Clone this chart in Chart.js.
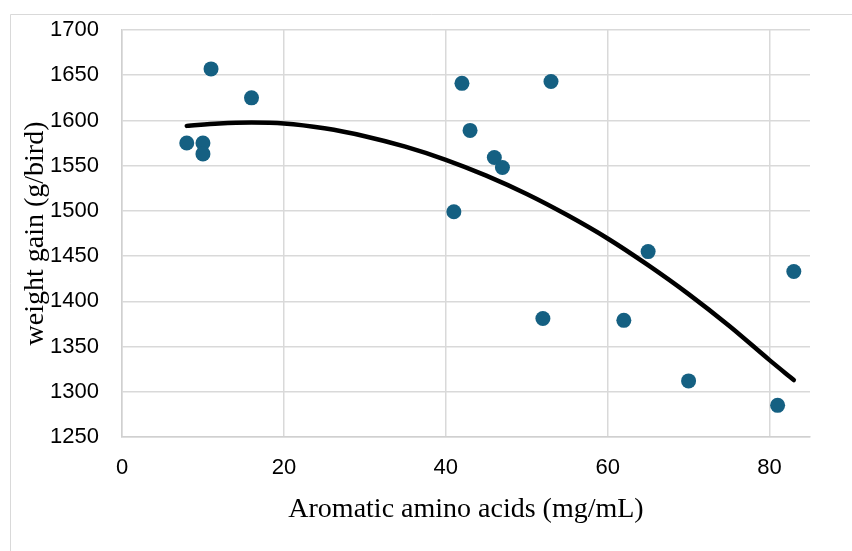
<!DOCTYPE html>
<html>
<head>
<meta charset="utf-8">
<script src="https://cdn.jsdelivr.net/npm/chart.js@4/dist/chart.umd.min.js"></script>
<style>
html,body{margin:0;padding:0;background:#fff;}
#wrap{width:852px;height:551px;position:relative;}
</style>
</head>
<body>
<div id="wrap"><canvas id="c" width="852" height="551"></canvas></div>
<script>
// Observed data
const aminoAcids = [8, 10, 10, 11, 16, 41, 42, 43, 46, 47, 52, 53, 62, 65, 70, 81, 83];
const weightGain = [1575, 1575, 1563, 1657, 1625, 1499, 1641, 1589, 1559, 1548, 1381, 1643, 1379, 1455, 1312, 1285, 1433];
// Trend line
const trendX = [8, 12, 16, 20, 25, 30, 35, 40, 45, 50, 55, 60, 65, 70, 75, 80, 83];
const trendY = [1594, 1596.6, 1597.6, 1596.6, 1591.3, 1582.6, 1571, 1556.5, 1539, 1518.7, 1495.4, 1469.5, 1440, 1408, 1373, 1335, 1313];
// Axis ticks
const xTicks = [0, 20, 40, 60, 80];
const yTicks = [1250, 1300, 1350, 1400, 1450, 1500, 1550, 1600, 1650, 1700];

const scatterPts = aminoAcids.map((x, i) => ({x: x, y: weightGain[i]}));
const trendPts = trendX.map((x, i) => ({x: x, y: trendY[i]}));

const frame = {
  id: 'frame',
  beforeDraw(chart) {
    const ctx = chart.ctx;
    ctx.save();
    ctx.fillStyle = '#fff';
    ctx.fillRect(0, 0, chart.width, chart.height);
    ctx.strokeStyle = '#d9d9d9';
    ctx.lineWidth = 1;
    ctx.beginPath();
    ctx.moveTo(10.5, chart.height + 2);
    ctx.lineTo(10.5, 14.5);
    ctx.lineTo(chart.width + 2, 14.5);
    ctx.stroke();
    ctx.restore();
  }
};

new Chart(document.getElementById('c'), {
  type: 'scatter',
  data: {
    datasets: [
      {
        type: 'line',
        label: 'Trend',
        data: trendPts,
        borderColor: '#000',
        borderWidth: 4.5,
        pointRadius: 0,
        fill: false,
        cubicInterpolationMode: 'monotone',
        borderCapStyle: 'round',
        order: 0
      },
      {
        label: 'Weight gain',
        data: scatterPts,
        backgroundColor: '#156082',
        borderColor: '#156082',
        borderWidth: 0,
        pointRadius: 7.5,
        order: 1
      }
    ]
  },
  options: {
    responsive: false,
    animation: false,
    layout: {padding: {top: 30, right: 42, left: 0, bottom: 0}},
    plugins: {legend: {display: false}, tooltip: {enabled: false}},
    scales: {
      x: {
        type: 'linear',
        min: 0, max: 85,
        afterFit(s) { s.height = 114; s.paddingLeft = 0; s.paddingRight = 0; },
        afterBuildTicks(s) { s.ticks = xTicks.map(v => ({value: v})); },
        ticks: {
          includeBounds: false,
          padding: 18,
          color: '#000',
          font: {family: '"Liberation Sans", Arial, sans-serif', size: 22},
          callback: v => String(v)
        },
        grid: {color: '#d9d9d9', lineWidth: 1.5, drawTicks: false},
        border: {color: '#d0d0d0', width: 1.5},
        title: {
          display: true,
          text: 'Aromatic amino acids (mg/mL)',
          color: '#000',
          font: {family: '"Liberation Serif", "Times New Roman", serif', size: 28},
          padding: {top: 0, bottom: 25}
        }
      },
      y: {
        type: 'linear',
        min: 1250, max: 1700,
        afterFit(s) { s.width = 122; s.paddingTop = 0; s.paddingBottom = 0; },
        afterBuildTicks(s) { s.ticks = yTicks.map(v => ({value: v})); },
        ticks: {
          padding: 23,
          color: '#000',
          font: {family: '"Liberation Sans", Arial, sans-serif', size: 22},
          callback: v => String(v)
        },
        grid: {color: '#d9d9d9', lineWidth: 1.5, drawTicks: false},
        border: {color: '#d0d0d0', width: 1.5},
        title: {
          display: true,
          text: 'weight gain (g/bird)',
          color: '#000',
          font: {family: '"Liberation Serif", "Times New Roman", serif', size: 28},
          padding: {top: 19, bottom: 0}
        }
      }
    }
  },
  plugins: [frame]
});
</script>
</body>
</html>
